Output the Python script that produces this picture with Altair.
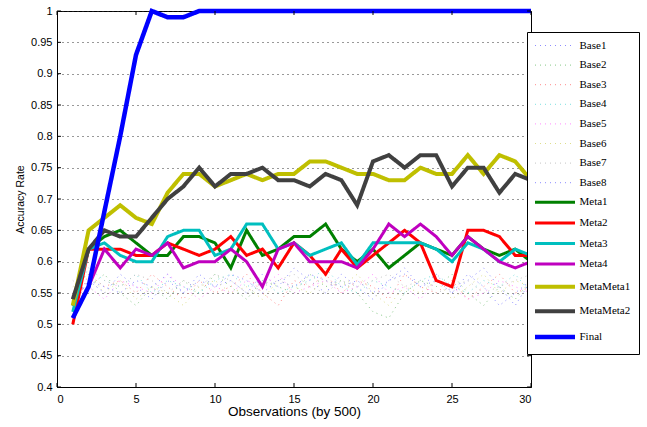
import altair as alt
import pandas as pd

x_vals = list(range(1, 31))

base1 = [0.53,0.57,0.55,0.58,0.56,0.54,0.57,0.55,0.58,0.56,0.57,0.55,0.58,0.56,0.59,0.57,0.55,0.58,0.56,0.54,0.57,0.59,0.56,0.58,0.55,0.57,0.59,0.56,0.53,0.57]
base2 = [0.55,0.56,0.58,0.55,0.53,0.56,0.54,0.57,0.55,0.58,0.56,0.54,0.57,0.56,0.55,0.58,0.56,0.57,0.55,0.52,0.51,0.55,0.57,0.56,0.58,0.55,0.53,0.56,0.54,0.57]
base3 = [0.52,0.58,0.56,0.57,0.55,0.58,0.56,0.54,0.57,0.55,0.56,0.58,0.55,0.53,0.57,0.56,0.58,0.55,0.57,0.56,0.54,0.58,0.56,0.55,0.57,0.54,0.56,0.58,0.55,0.56]
base4 = [0.54,0.59,0.57,0.56,0.58,0.55,0.57,0.56,0.55,0.57,0.58,0.56,0.57,0.55,0.56,0.57,0.59,0.56,0.55,0.57,0.56,0.55,0.57,0.58,0.56,0.55,0.57,0.56,0.58,0.55]
base5 = [0.55,0.56,0.54,0.57,0.56,0.55,0.58,0.56,0.54,0.56,0.55,0.57,0.56,0.58,0.55,0.56,0.57,0.55,0.56,0.58,0.55,0.56,0.54,0.57,0.56,0.54,0.55,0.57,0.56,0.55]
base6 = [0.56,0.58,0.55,0.57,0.54,0.56,0.55,0.53,0.56,0.57,0.55,0.56,0.54,0.57,0.56,0.55,0.57,0.56,0.58,0.55,0.53,0.56,0.55,0.57,0.54,0.56,0.58,0.55,0.57,0.56]
base7 = [0.57,0.55,0.57,0.56,0.58,0.57,0.55,0.57,0.56,0.58,0.57,0.55,0.56,0.57,0.58,0.56,0.55,0.57,0.56,0.57,0.58,0.56,0.57,0.55,0.56,0.57,0.55,0.56,0.57,0.58]
base8 = [0.54,0.57,0.56,0.55,0.57,0.56,0.58,0.55,0.57,0.56,0.58,0.57,0.55,0.57,0.56,0.58,0.57,0.56,0.57,0.55,0.57,0.58,0.56,0.57,0.55,0.58,0.56,0.53,0.55,0.57]

meta1 = [0.53,0.62,0.64,0.65,0.63,0.61,0.61,0.64,0.64,0.63,0.59,0.65,0.61,0.62,0.64,0.64,0.66,0.62,0.60,0.62,0.59,0.61,0.63,0.62,0.61,0.64,0.62,0.61,0.62,0.60]
meta2 = [0.50,0.62,0.62,0.62,0.61,0.61,0.63,0.62,0.61,0.62,0.64,0.61,0.62,0.59,0.63,0.61,0.58,0.62,0.59,0.61,0.63,0.65,0.63,0.57,0.56,0.65,0.65,0.64,0.61,0.61]
meta3 = [0.52,0.62,0.63,0.61,0.60,0.60,0.64,0.65,0.65,0.61,0.62,0.66,0.66,0.62,0.63,0.61,0.62,0.63,0.595,0.63,0.63,0.63,0.63,0.62,0.60,0.63,0.62,0.60,0.62,0.61]
meta4 = [0.51,0.56,0.62,0.59,0.62,0.61,0.63,0.59,0.60,0.60,0.62,0.60,0.56,0.62,0.63,0.60,0.60,0.60,0.59,0.62,0.66,0.64,0.66,0.64,0.61,0.64,0.62,0.60,0.59,0.60]
metameta1 = [0.53,0.65,0.67,0.69,0.67,0.66,0.71,0.74,0.74,0.72,0.73,0.74,0.73,0.74,0.74,0.76,0.76,0.75,0.74,0.74,0.73,0.73,0.75,0.74,0.74,0.77,0.74,0.77,0.76,0.73]
metameta2 = [0.54,0.62,0.65,0.64,0.64,0.67,0.70,0.72,0.75,0.72,0.74,0.74,0.75,0.73,0.73,0.72,0.74,0.73,0.69,0.76,0.77,0.75,0.77,0.77,0.72,0.75,0.75,0.71,0.74,0.73]
final = [0.51,0.56,0.68,0.80,0.93,1.0,0.99,0.99,1.0,1.0,1.0,1.0,1.0,1.0,1.0,1.0,1.0,1.0,1.0,1.0,1.0,1.0,1.0,1.0,1.0,1.0,1.0,1.0,1.0,1.0]

series_names = ["Base1","Base2","Base3","Base4","Base5","Base6","Base7","Base8",
                "Meta1","Meta2","Meta3","Meta4","MetaMeta1","MetaMeta2","Final"]
series_values = [base1, base2, base3, base4, base5, base6, base7, base8,
                 meta1, meta2, meta3, meta4, metameta1, metameta2, final]
colors = ["#8c8cff","#86c886","#ff8c8c","#7fe0e0","#ff8cff","#dede8c","#c4c4c4","#8c8cff",
          "#008000","#ff0000","#00bfbf","#bf00bf","#bfbf00","#404040","#0000ff"]
dashes = [[1,4]]*8 + [[1,0]]*7
widths = [1]*8 + [3,3,3,3,4,4,4.5]

x_ticks = [0,5,10,15,20,25,30]
y_ticks = [0.4,0.45,0.5,0.55,0.6,0.65,0.7,0.75,0.8,0.85,0.9,0.95,1.0]

rows = []
for name, vals in zip(series_names, series_values):
    for xv, yv in zip(x_vals, vals):
        rows.append({"obs": xv, "acc": yv, "series": name})
df = pd.DataFrame(rows)

xscale = alt.Scale(domain=[0, 30], nice=False, zero=False)
yscale = alt.Scale(domain=[0.4, 1.0], nice=False, zero=False)

x_axis = alt.Axis(values=x_ticks, title="Observations (by 500)", grid=False,
                  ticks=False, tickSize=0, labelPadding=6, labelOverlap=False,
                  titleY=24, titleBaseline="middle", titleFontSize=13.5)
y_axis = alt.Axis(values=y_ticks, title="Accuracy Rate", format=".2~f",
                  grid=True, gridDash=[1, 4], gridColor="#333333", gridWidth=1,
                  ticks=False, tickSize=0, labelPadding=5, labelOverlap=False,
                  titleX=-37, titleY=188, titleFontSize=10.5,
                  titleBaseline="middle")

leg = alt.Legend(title=None, orient="none", legendX=470, legendY=21,
                 symbolType="M-10,0H10", symbolSize=16, symbolOffset=14.5,
                 labelOffset=19, padding=8, rowPadding=7.6,
                 strokeColor="black", fillColor="white",
                 labelFont="Liberation Serif", labelFontSize=11, labelColor="black",
                 labelLimit=0)

lines = alt.Chart(df).mark_line().encode(
    x=alt.X("obs:Q", scale=xscale, axis=x_axis),
    y=alt.Y("acc:Q", scale=yscale, axis=y_axis),
    color=alt.Color("series:N", scale=alt.Scale(domain=series_names, range=colors), legend=leg),
    strokeDash=alt.StrokeDash("series:N", scale=alt.Scale(domain=series_names, range=dashes), legend=leg),
    strokeWidth=alt.StrokeWidth("series:N", scale=alt.Scale(type="ordinal", domain=series_names, range=widths), legend=leg),
)

xt = pd.DataFrame({"t": x_ticks})
yt = pd.DataFrame({"t": y_ticks})

bottom_ticks = alt.Chart(xt).mark_rule(color="black", strokeWidth=1).encode(
    x=alt.X("t:Q", scale=xscale, axis=x_axis),
    y=alt.YDatum(0.4, scale=yscale, axis=y_axis), y2=alt.datum(0.4064))
top_ticks = alt.Chart(xt).mark_rule(color="black", strokeWidth=1).encode(
    x=alt.X("t:Q", scale=xscale, axis=x_axis),
    y=alt.YDatum(1.0, scale=yscale, axis=y_axis), y2=alt.datum(0.9936))
left_ticks = alt.Chart(yt).mark_rule(color="black", strokeWidth=1).encode(
    y=alt.Y("t:Q", scale=yscale, axis=y_axis),
    x=alt.XDatum(0, scale=xscale, axis=x_axis), x2=alt.datum(0.25))
right_ticks = alt.Chart(yt).mark_rule(color="black", strokeWidth=1).encode(
    y=alt.Y("t:Q", scale=yscale, axis=y_axis),
    x=alt.XDatum(29.75, scale=xscale, axis=x_axis), x2=alt.datum(30))

chart = alt.layer(lines, bottom_ticks, top_ticks, left_ticks, right_ticks).properties(
    width=474, height=376,
    autosize=alt.AutoSizeParams(type="none"),
    padding={"left": 57, "top": 11, "right": 116, "bottom": 40},
    background="white",
).configure_view(stroke="black", strokeWidth=1).configure_axis(
    labelFont="Liberation Sans", labelFontSize=11, labelColor="black",
    titleFont="Liberation Sans", titleFontSize=13, titleColor="black", titleFontWeight="normal",
    domainColor="black", domainWidth=1,
)

chart.save("out.html", embed_options={"renderer": "svg", "actions": False})
